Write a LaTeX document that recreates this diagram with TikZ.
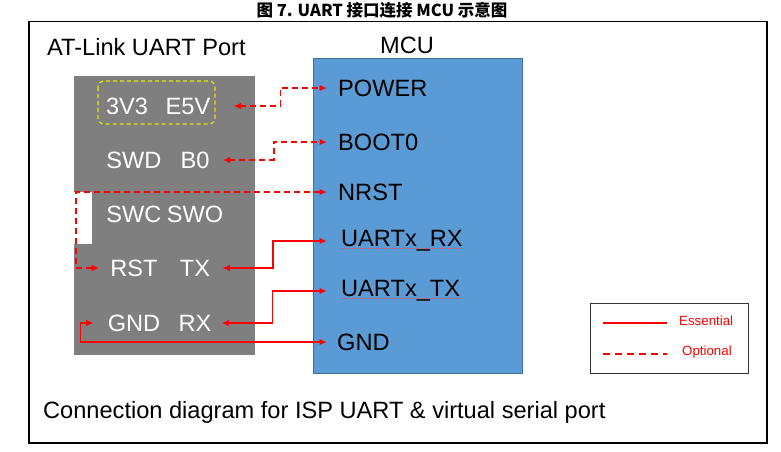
\documentclass[tikz,border=0pt]{standalone}
\usepackage{fontspec}
\setmainfont{Liberation Sans}
\newfontfamily\cjkfont{Noto Sans CJK SC}
\usetikzlibrary{arrows.meta}
\definecolor{mcublue}{HTML}{5B9BD5}
\definecolor{mcuedge}{HTML}{41719C}
\definecolor{portgray}{HTML}{7F7F7F}
\definecolor{hiyellow}{HTML}{E6E600}
\tikzset{
  bigtext/.style = {font=\fontsize{23.6}{26}\selectfont, inner sep=0pt},
  atpin/.style = {bigtext, text=white},
  mcupin/.style = {bigtext, anchor=west},
  legtext/.style = {font=\fontsize{13.3}{15}\selectfont, text=red, inner sep=0pt, anchor=west},
  ess/.style = {red, line width=1.8pt, <->},
  opt/.style = {ess, dash pattern=on 6pt off 4pt},
}
\begin{document}
\begin{tikzpicture}[x=1pt,y=-1pt,>={Latex[length=7.5pt,width=6.5pt]}]
\useasboundingbox (0,0) rectangle (781,451);
\node (title) at (382,10) {\cjkfont\bfseries\fontsize{16.5}{18}\selectfont 图 7. UART 接口连接 MCU 示意图};
\draw[line width=1.5pt] (29,21.5) rectangle (767,443);
% AT-Link side
\node[bigtext, anchor=west] (atlink) at (47,47) {AT-Link UART Port};
\fill[portgray] (74,76) rectangle (255,355);
\fill[white] (74,192) rectangle (92,244);
\draw[hiyellow, line width=1.2pt, dash pattern=on 4pt off 3pt, rounded corners=6pt] (98,81) rectangle (215,124);
\node[atpin] (p3v3) at (127,106) {3V3};
\node[atpin] (pe5v) at (188,106) {E5V};
\node[atpin] (pswd) at (134,160) {SWD};
\node[atpin] (pb0) at (195,160) {B0};
\node[atpin] (pswc) at (134,214) {SWC};
\node[atpin] (pswo) at (195,214) {SWO};
\node[atpin] (prst) at (134,268) {RST};
\node[atpin] (ptx) at (195,268) {TX};
\node[atpin] (pgnd) at (134,323) {GND};
\node[atpin] (prx) at (195,323) {RX};
% MCU side
\draw[mcuedge, fill=mcublue, line width=1pt] (313,58) rectangle (522,373);
\node[bigtext] (mcu) at (407,45) {MCU};
\node[mcupin] (mpower) at (338,88) {POWER};
\node[mcupin] (mboot) at (338,142) {BOOT0};
\node[mcupin] (mnrst) at (338,192) {NRST};
\node[mcupin] (mrx) at (341,241) {UARTx\_RX};
\node[mcupin] (mtx) at (341,291) {UARTx\_TX};
\node[mcupin] (mgnd) at (337,342) {GND};
\foreach \n in {mrx,mtx}
  \draw[red!70, densely dotted, line width=.6pt] ([yshift=-2pt]\n.base west) -- ([yshift=-2pt]\n.base east);
% connectors
\draw[opt] ([xshift=23pt]pe5v.east) -- ++(47,0) |- ([xshift=-11pt]mpower.west);
\draw[opt] ([xshift=13pt]pb0.east) -- ++(51,0) |- ([xshift=-11pt]mboot.west);
\draw[opt] ([xshift=-11pt]prst.west) -- ++(-23,0) |- ([xshift=-11pt]mnrst.west);
\draw[ess] ([xshift=12pt]ptx.east) -- ++(51,0) |- ([xshift=-14pt]mrx.west);
\draw[ess] ([xshift=10pt]prx.east) -- ++(51,0) |- ([xshift=-14pt]mtx.west);
\draw[ess] ([xshift=-14pt]pgnd.west) -- ++(-13,0) |- ([xshift=-10pt]mgnd.west);
% legend
\draw[black!80, line width=1pt] (590,303) rectangle (748,373);
\node[legtext] (lgess) at (679,321) {Essential};
\node[legtext] (lgopt) at (682,352) {Optional};
\draw[red, line width=1.8pt] ([xshift=-76pt,yshift=-2pt]lgess.west) -- ([xshift=-12pt,yshift=-2pt]lgess.west);
\draw[red, line width=1.8pt, dash pattern=on 7pt off 5pt] ([xshift=-79pt,yshift=-2pt]lgopt.west) -- ([xshift=-15pt,yshift=-2pt]lgopt.west);
\node[bigtext, anchor=west] (caption) at (43,412) {Connection diagram for ISP UART \& virtual serial port};
\end{tikzpicture}
\end{document}
